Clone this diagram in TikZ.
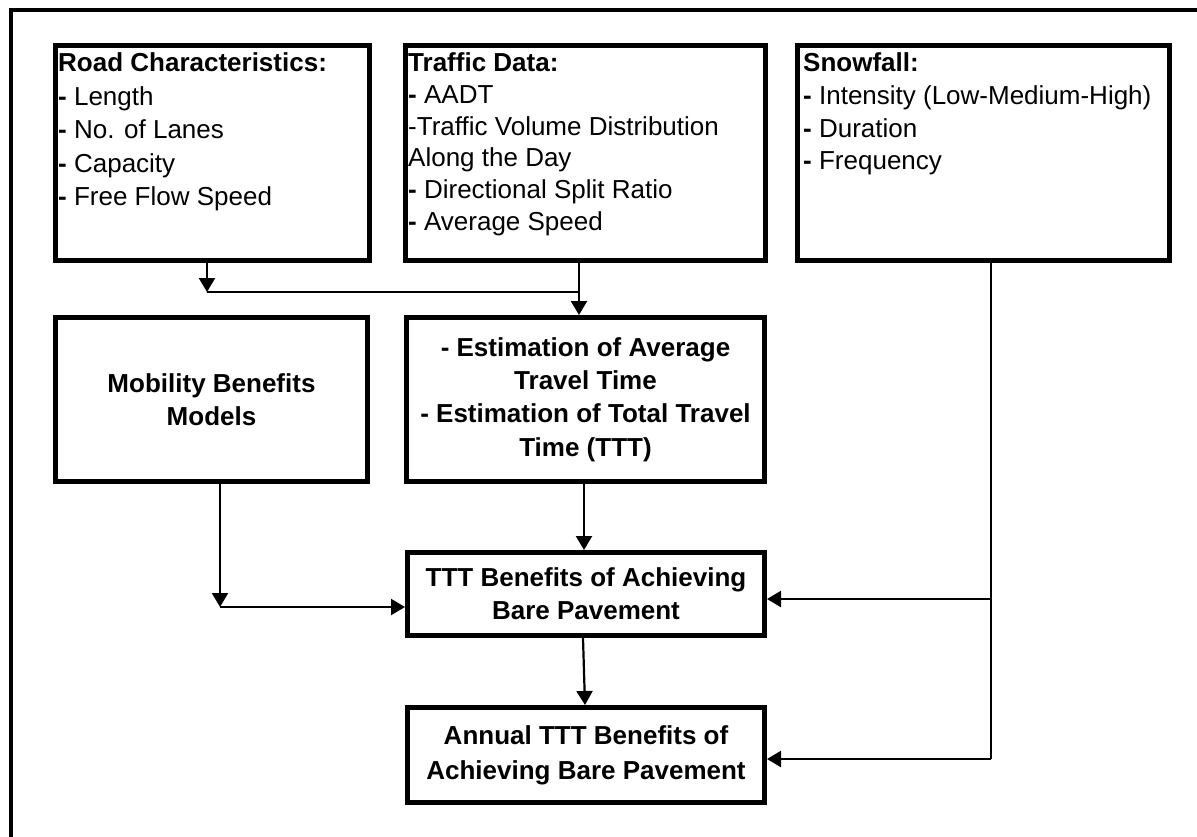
\documentclass[tikz,border=0pt]{standalone}
\usepackage{fontspec}
\setmainfont{Liberation Sans}
\usetikzlibrary{arrows.meta}
\begin{document}
\begin{tikzpicture}[x=1pt,y=-1pt,
  box/.style={draw, line width=5pt, inner sep=0pt},
  conn/.style={line width=2.2pt},
  arr/.style={line width=2.2pt, -{Triangle[width=16pt,length=14pt]}},
  hd/.style={font=\fontsize{26}{33.3}\selectfont\bfseries, align=center},
  lst/.style={align=left, anchor=north west, inner sep=0pt}]
\useasboundingbox (0,0) rectangle (1197,836);
\draw[line width=4pt] (11,845) -- (11,9.5) -- (1205,9.5);
% row 1
\node[box, minimum width=314pt, minimum height=215pt] (road) at (212.5,153) {};
\node[box, minimum width=360pt, minimum height=215pt] (traffic) at (585.5,153) {};
\node[box, minimum width=372pt, minimum height=215pt] (snow) at (983.5,153) {};
\node[lst, font=\fontsize{26}{33.6}\selectfont] (roadtxt) at (58,52.5)
  {\textbf{Road Characteristics:}\\\textbf{-} Length\\\textbf{-} No. of Lanes\\\textbf{-} Capacity\\\textbf{-} Free Flow Speed};
\node[lst, font=\fontsize{26}{31.8}\selectfont] (traffictxt) at (408,52.5)
  {\textbf{Traffic Data:}\\\textbf{-} AADT\\-Traffic Volume Distribution\\Along the Day\\\textbf{-} Directional Split Ratio\\\textbf{-} Average Speed};
\node[lst, font=\fontsize{26}{32.8}\selectfont] (snowtxt) at (803,52.5)
  {\textbf{Snowfall:}\\\textbf{-} Intensity (Low-Medium-High)\\\textbf{-} Duration\\\textbf{-} Frequency};
% row 2
\node[box, hd, minimum width=312pt, minimum height=164pt] (mob) at (211.5,399.5)
  {Mobility Benefits\\Models};
\node[box, hd, minimum width=358pt, minimum height=164pt] (estim) at (585.5,399.5)
  {- Estimation of Average\\Travel Time\\- Estimation of Total Travel\\Time (TTT)};
% row 3, 4
\node[box, hd, minimum width=357pt, minimum height=83pt] (ttt) at (586,594)
  {TTT Benefits of Achieving\\Bare Pavement};
\node[box, hd, font=\fontsize{26}{35}\selectfont\bfseries, minimum width=357pt, minimum height=95pt] (annual) at (586,755)
  {Annual TTT Benefits of\\Achieving Bare Pavement};
% connectors
\coordinate (rj) at (207,292);
\coordinate (tx) at (579,0);
\draw[arr] (road.south -| rj) -- (rj);
\draw[conn] (rj) -- (rj -| tx);
\draw[arr] (traffic.south -| tx) -- (estim.north -| tx);
\coordinate (mj) at (220,607);
\draw[arr] (mob.south -| mj) -- (mj);
\draw[arr] (mj) -- (ttt.west |- mj);
\coordinate (ex) at (584,0);
\draw[arr] (estim.south -| ex) -- (ttt.north -| ex);
\draw[arr] ([xshift=-3pt]ttt.south) -- ([xshift=-1pt]annual.north);
\coordinate (sx) at (991,759);
\coordinate (sj) at (991,599);
\draw[conn] (snow.south -| sx) -- (sx);
\draw[arr] (sj) -- (ttt.east |- sj);
\draw[arr] (sx) -- (annual.east |- sx);
\end{tikzpicture}
\end{document}
